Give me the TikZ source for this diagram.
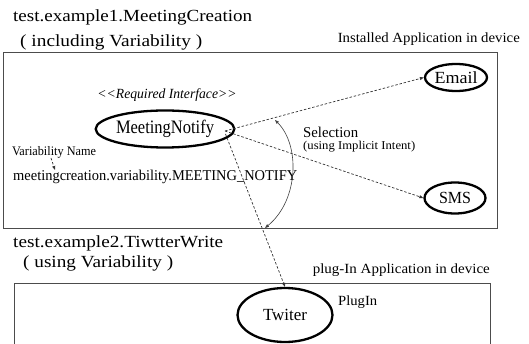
\documentclass[tikz,border=0pt]{standalone}
\usepackage{fontspec}
\setmainfont{Liberation Serif}
\usetikzlibrary{shapes.geometric,arrows.meta}
\newcommand{\fitw}[2]{\resizebox{#1}{\height}{#2}}
\begin{document}
\begin{tikzpicture}[x=1pt,y=-1pt,
  frame/.style={draw=black!70,line width=0.9pt},
  comp/.style={ellipse,draw=black,line width=2.3pt,inner sep=0pt},
  lbl/.style={inner sep=0pt,text=black},
  dep/.style={draw=black!80,line width=0.7pt,dash pattern=on 2.5pt off 1.8pt,-{Triangle[length=4pt,width=3pt]}},
  sel/.style={draw=black!75,line width=0.6pt,{Triangle[length=4pt,width=3pt]}-{Triangle[length=4pt,width=3pt]}}]
\useasboundingbox (0,0) rectangle (529,344);
\clip (0,0) rectangle (529,344);
% frames
\draw[frame] (3,52.5) rectangle (497,228.5);
\draw[frame] (14,352) -- (14,283) -- (490,283) -- (490,352);
% titles
\node[lbl,anchor=west,font=\fontsize{17}{19}\selectfont] (t1) at (13,17) {\fitw{239pt}{test.example1.MeetingCreation}};
\node[lbl,anchor=west,font=\fontsize{17}{19}\selectfont] (t1b) at (20,42) {\fitw{182pt}{( including Variability )}};
\node[lbl,anchor=east,font=\fontsize{14}{16}\selectfont] (inst) at (520,39) {\fitw{182pt}{Installed Application in device}};
\node[lbl,anchor=west,font=\fontsize{17}{19}\selectfont] (t2) at (13,243) {\fitw{210pt}{test.example2.TiwtterWrite}};
\node[lbl,anchor=west,font=\fontsize{17}{19}\selectfont] (t2b) at (23,263) {\fitw{150pt}{( using Variability )}};
\node[lbl,anchor=east,font=\fontsize{14}{16}\selectfont] (plug) at (490,270) {\fitw{177pt}{plug-In Application in device}};
% components
\node[comp,minimum width=118pt,minimum height=37pt,font=\fontsize{19}{21}\selectfont] (mn) at (165,129) {\fitw{98pt}{MeetingNotify}};
\node[comp,minimum width=62pt,minimum height=27pt,font=\fontsize{17}{19}\selectfont] (email) at (456,77.5) {\fitw{43pt}{Email}};
\node[comp,minimum width=61pt,minimum height=31pt,font=\fontsize{17}{19}\selectfont] (sms) at (455,198) {\fitw{32pt}{SMS}};
\node[comp,minimum width=95pt,minimum height=54pt,font=\fontsize{17}{19}\selectfont] (tw) at (285,315) {\fitw{44pt}{Twiter}};
% labels
\node[lbl,font=\fontsize{14}{16}\selectfont\itshape] (ri) at (167,95) {\fitw{139pt}{<{}<Required Interface>{}>}};
\node[lbl,font=\fontsize{13}{15}\selectfont] (vn) at (54,152) {\fitw{84pt}{Variability Name}};
\node[lbl,anchor=west,font=\fontsize{15}{17}\selectfont] (vv) at (13,177) {\fitw{284pt}{meetingcreation.variability.MEETING\_NOTIFY}};
\node[lbl,anchor=west,font=\fontsize{15}{17}\selectfont] (seln) at (303,132) {\fitw{55pt}{Selection}};
\node[lbl,anchor=west,font=\fontsize{12}{14}\selectfont] (seli) at (303,147) {\fitw{112pt}{(using Implicit Intent)}};
\node[lbl,anchor=west,font=\fontsize{14}{16}\selectfont] (pin) at (338,302) {\fitw{39pt}{PlugIn}};
% connectors
\coordinate (src) at (225,131);
\coordinate (src2) at (225.5,134);
\draw[dep] (src) -- (email.west);
\draw[dep] (src) -- (sms.west);
\draw[dep] (src2) -- (tw.north);
\coordinate (vna) at (51,158);
\coordinate (vnb) at (55,170);
\draw[dep] (vna) -- (vnb);
\coordinate (c1) at (275,120);
\coordinate (c2) at (265,228);
\draw[sel] (c1) .. controls (300,145) and (299,200) .. (c2);
\end{tikzpicture}
\end{document}
